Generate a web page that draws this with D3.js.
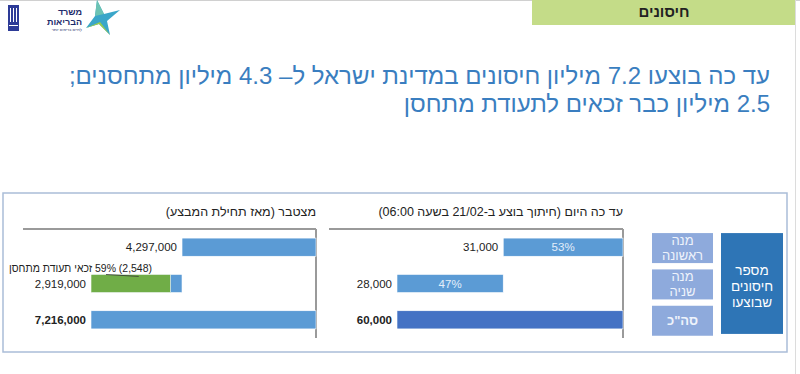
<!DOCTYPE html>
<html>
<head>
<meta charset="utf-8">
<script src="https://cdn.jsdelivr.net/npm/d3@7"></script>
<style>
  body { margin: 0; background: #fff; }
  svg { display: block; font-family: "Liberation Sans", Arial, sans-serif; }
</style>
</head>
<body>
<svg id="chart" width="800" height="374"></svg>
<script>
// rows, top to bottom
const rowKeys = ["first", "second", "total"]
const rowLabels = [["מנה", "ראשונה"], ["מנה", "שניה"], ["סה\"כ"]]
const sideLabel = ["מספר", "חיסונים", "שבוצעו"]

// cumulative since start of campaign
const cumValues = [4297000, 2919000, 7216000]
const cumEligible = 2548000
const cumEligibleLabel = "(2,548) 59% זכאי תעודת מתחסן"

// today (cut at 21/02 06:00)
const todayValues = [31000, 28000, 60000]
const todayPct = [53, 47]

const titleLines = [
  "עד כה בוצעו 7.2 מיליון חיסונים במדינת ישראל ל– 4.3 מיליון מתחסנים;",
  "2.5 מיליון כבר זכאים לתעודת מתחסן"
]
const cumTitle = "מצטבר (מאז תחילת המבצע)"
const todayTitle = "עד כה היום (חיתוך בוצע ב-21/02 בשעה 06:00)"
const sectionTitle = "חיסונים"

const fmt = d3.format(",")
const svg = d3.select("#chart")

// slide chrome
svg.append("line").attr("x1", 0).attr("x2", 800).attr("y1", 0.5).attr("y2", 0.5)
  .attr("stroke", "#d0d0d0")
svg.append("line").attr("x1", 795.5).attr("x2", 795.5).attr("y1", 0).attr("y2", 374)
  .attr("stroke", "#dcdcdc")
svg.append("rect").attr("x", 532).attr("y", 0).attr("width", 263).attr("height", 25)
  .attr("fill", "#c4dc88")
svg.append("text").attr("x", 664).attr("y", 17).attr("text-anchor", "middle")
  .attr("font-size", 15).attr("font-weight", "bold").attr("fill", "#222")
  .text(sectionTitle)

// logo (rough)
const logo = svg.append("g")
logo.append("rect").attr("x", 8).attr("y", 5).attr("width", 11).attr("height", 26).attr("fill", "#2d3b97")
;[10, 13, 16].forEach(x => logo.append("line").attr("x1", x + 0.5).attr("x2", x + 0.5)
  .attr("y1", 8).attr("y2", 22).attr("stroke", "#fff").attr("stroke-width", 1))
logo.append("line").attr("x1", 9).attr("x2", 18).attr("y1", 25.5).attr("y2", 25.5)
  .attr("stroke", "#fff").attr("stroke-width", 1)
logo.append("text").attr("x", 82).attr("y", 15).attr("text-anchor", "end")
  .attr("font-size", 9).attr("font-weight", "bold").attr("fill", "#1c2a6b").text("משרד")
logo.append("text").attr("x", 82).attr("y", 25).attr("text-anchor", "end")
  .attr("font-size", 9).attr("font-weight", "bold").attr("fill", "#1c2a6b").text("הבריאות")
logo.append("text").attr("x", 82).attr("y", 31).attr("text-anchor", "end")
  .attr("font-size", 4).attr("fill", "#1c2a6b").text("לחיים בריאים יותר")
logo.append("polygon").attr("points", "97,0 104,14 120,10 107,21 110,35 99,24 86,28 95,16")
  .attr("fill", "#3aa6c9")
logo.append("polygon").attr("points", "86,28 99,24 110,35 100,22").attr("fill", "#9ccc4a")
logo.append("polygon").attr("points", "97,0 104,14 95,16").attr("fill", "#6cc3b3")

// headline
svg.selectAll("text.headline")
  .data(titleLines)
  .join("text")
  .attr("class", "headline")
  .attr("x", 770)
  .attr("y", (d, i) => 84 + i * 28)
  .attr("direction", "rtl")
  .attr("text-anchor", "start")
  .attr("font-size", 24)
  .attr("fill", "#3a7ec0")
  .text(d => d)

// outer frame
svg.append("rect").attr("x", 3).attr("y", 193).attr("width", 784).attr("height", 159)
  .attr("fill", "none").attr("stroke", "#aabdd8").attr("stroke-width", 1.5)

const y = d3.scaleBand().domain(rowKeys).range([229, 338]).paddingInner(0.5).paddingOuter(0.25)

// right side labels
svg.selectAll("rect.rowbox")
  .data(rowKeys)
  .join("rect")
  .attr("class", "rowbox")
  .attr("x", 652).attr("width", 61)
  .attr("y", d => y(d) - 5).attr("height", 30)
  .attr("fill", "#8eaadc")

rowKeys.forEach((k, i) => {
  const lines = rowLabels[i]
  const cy = y(k) + y.bandwidth() / 2
  lines.forEach((t, j) => {
    svg.append("text")
      .attr("x", 682.5)
      .attr("y", cy + (j - (lines.length - 1) / 2) * 15 + 5)
      .attr("text-anchor", "middle")
      .attr("direction", "rtl")
      .attr("font-size", 13)
      .attr("font-weight", lines.length === 1 ? "bold" : "normal")
      .attr("fill", "#eef3fb")
      .text(t)
  })
})

svg.append("rect").attr("x", 721).attr("y", y(rowKeys[0]) - 5).attr("width", 62)
  .attr("height", y(rowKeys[2]) + y.bandwidth() + 5 - (y(rowKeys[0]) - 5))
  .attr("fill", "#2e75b6")
sideLabel.forEach((t, j) => {
  svg.append("text").attr("x", 752).attr("y", 275 + j * 16)
    .attr("text-anchor", "middle").attr("direction", "rtl")
    .attr("font-size", 13.5).attr("fill", "#fff").text(t)
})

// draws one RTL waterfall panel
function panel(opts) {
  const x = d3.scaleLinear().domain([0, opts.total]).range([opts.axisX, opts.axisX - opts.width])
  const g = svg.append("g")

  g.append("text").attr("x", opts.axisX).attr("y", 216)
    .attr("direction", "rtl").attr("text-anchor", "start")
    .attr("font-size", 12.5).attr("fill", "#222").text(opts.title)

  g.append("line").attr("x1", opts.lineLeft).attr("x2", opts.axisX)
    .attr("y1", 229).attr("y2", 229).attr("stroke", "#9a9a9a").attr("stroke-width", 2)
  g.append("line").attr("x1", opts.axisX).attr("x2", opts.axisX)
    .attr("y1", 229).attr("y2", 338).attr("stroke", "#9a9a9a").attr("stroke-width", 2)

  g.selectAll("rect.bar")
    .data(opts.segments)
    .join("rect")
    .attr("class", "bar")
    .attr("x", d => x(d.end))
    .attr("width", d => x(d.start) - x(d.end))
    .attr("y", d => y(d.key))
    .attr("height", y.bandwidth())
    .attr("fill", d => d.color)
    .attr("stroke", "#fff").attr("stroke-width", 0.6)

  g.selectAll("text.val")
    .data(opts.segments.filter(d => d.label))
    .join("text")
    .attr("class", "val")
    .attr("x", d => x(d.end) - 5)
    .attr("y", d => y(d.key) + y.bandwidth() / 2 + 4)
    .attr("text-anchor", "end")
    .attr("font-size", 11.5)
    .attr("font-weight", d => d.key === "total" ? "bold" : "normal")
    .attr("fill", "#222")
    .text(d => d.label)

  g.selectAll("text.inner")
    .data(opts.segments.filter(d => d.inner))
    .join("text")
    .attr("class", "inner")
    .attr("x", d => (x(d.start) + x(d.end)) / 2)
    .attr("y", d => y(d.key) + y.bandwidth() / 2 + 4)
    .attr("text-anchor", "middle")
    .attr("font-size", 11.5)
    .attr("fill", "#e3eefa")
    .text(d => d.inner)

  return x
}

// cumulative panel
const cumTotal = cumValues[2]
const xc = panel({
  axisX: 316, width: 225, lineLeft: 23, total: cumTotal, title: cumTitle,
  segments: [
    {key: "first", start: 0, end: cumValues[0], color: "#5b9bd5", label: fmt(cumValues[0])},
    {key: "second", start: cumValues[0], end: cumValues[0] + cumValues[1], color: "#5b9bd5", label: fmt(cumValues[1])},
    {key: "second", start: cumValues[0] + cumValues[1] - cumEligible, end: cumValues[0] + cumValues[1], color: "#70ad47"},
    {key: "total", start: 0, end: cumTotal, color: "#5b9bd5", label: fmt(cumTotal)}
  ]
})

// eligible callout, squeezed to the reference width
svg.append("text").attr("x", 152).attr("y", 272)
  .attr("direction", "rtl").attr("text-anchor", "start")
  .attr("font-size", 11).attr("fill", "#222")
  .attr("textLength", 143).attr("lengthAdjust", "spacingAndGlyphs")
  .text(cumEligibleLabel)
svg.append("line")
  .attr("x1", 106).attr("y1", 274.5)
  .attr("x2", xc(cumTotal - cumEligible / 2) + 8).attr("y2", y("second") + 2)
  .attr("stroke", "#333").attr("stroke-width", 0.8)

// today panel
const todayTotal = todayValues[2]
const split = todayTotal * todayPct[0] / 100
panel({
  axisX: 623, width: 226, lineLeft: 329, total: todayTotal, title: todayTitle,
  segments: [
    {key: "first", start: 0, end: split, color: "#5b9bd5", label: fmt(todayValues[0]), inner: todayPct[0] + "%"},
    {key: "second", start: split, end: todayTotal, color: "#5b9bd5", label: fmt(todayValues[1]), inner: todayPct[1] + "%"},
    {key: "total", start: 0, end: todayTotal, color: "#4472c4", label: fmt(todayTotal)}
  ]
})
</script>
</body>
</html>
